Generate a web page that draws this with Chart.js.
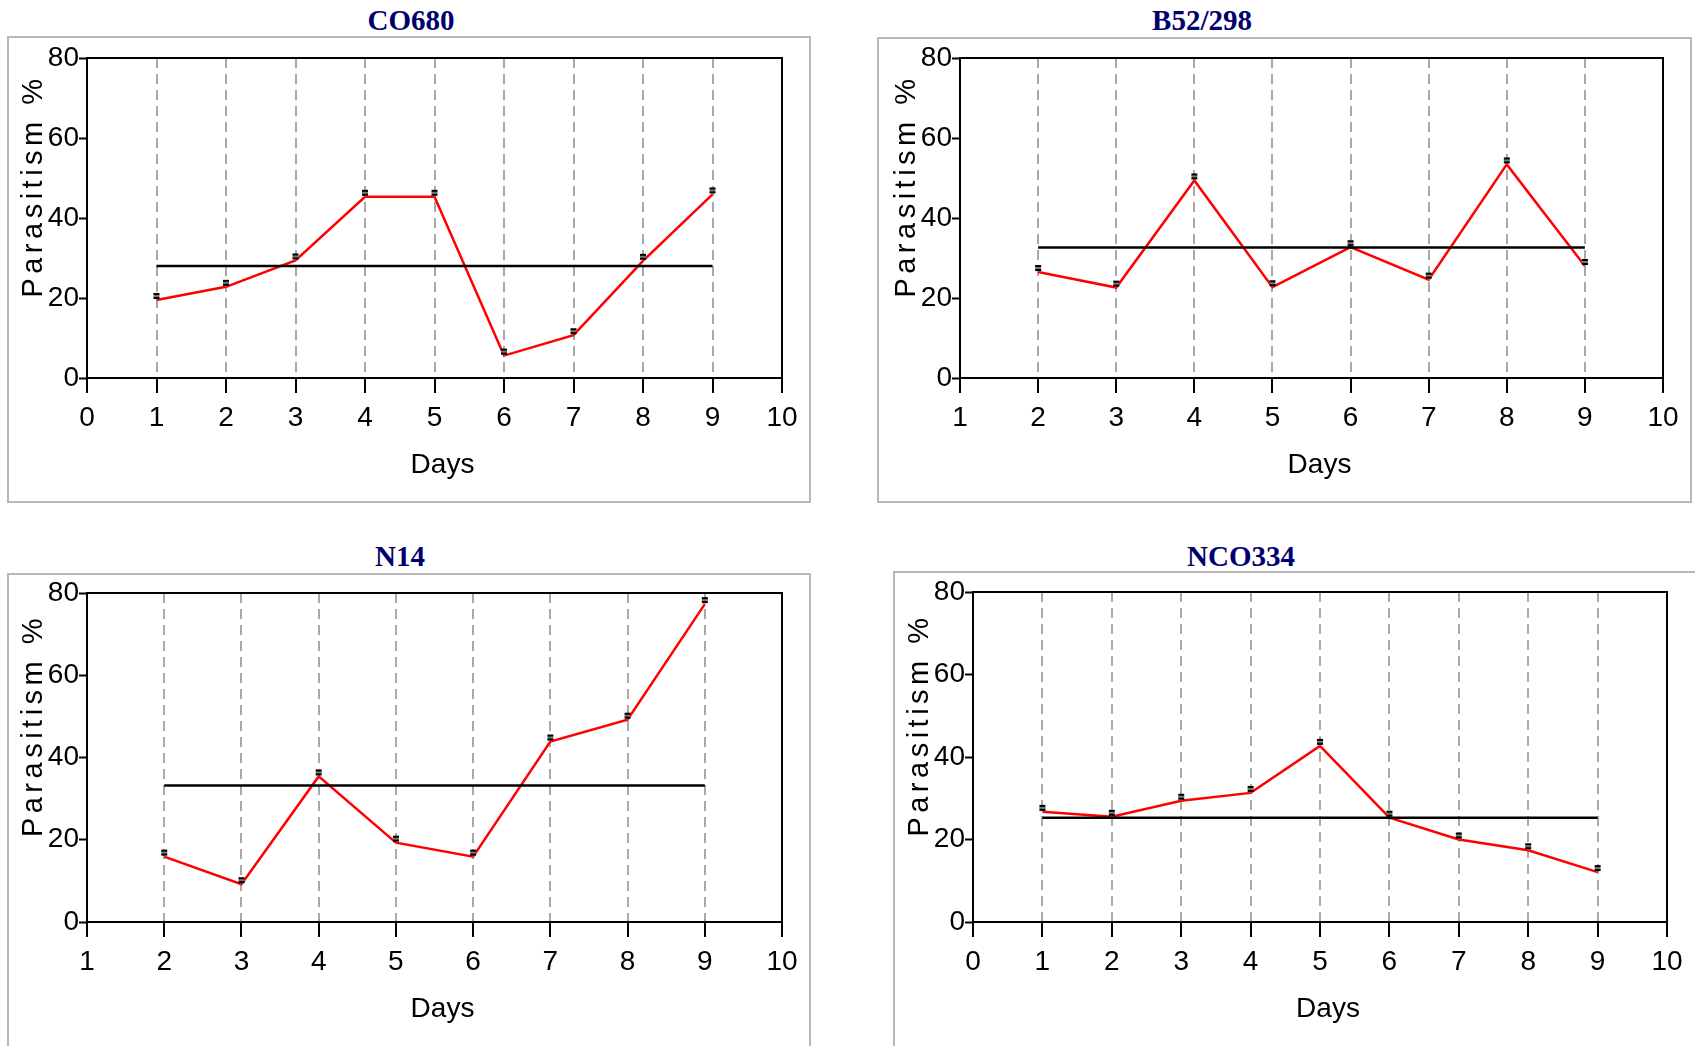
<!DOCTYPE html>
<html>
<head>
<meta charset="utf-8">
<script src="https://cdn.jsdelivr.net/npm/chart.js@4.4.1/dist/chart.umd.min.js"></script>
<style>
  html, body { margin: 0; padding: 0; background: #fff; overflow: hidden; }
  body { width: 1695px; height: 1046px; position: relative; }
  .frame { position: absolute; border: 2px solid #b8b8b8; box-sizing: border-box; }
  .title { position: absolute; font: bold 29px "Liberation Serif", "Times New Roman", serif; color: #00006e;
           line-height: 30px; transform: translateX(-50%); white-space: nowrap; }
  canvas { position: absolute; }
</style>
</head>
<body>
<div class="frame" style="left:7px;top:36px;width:804px;height:467px"></div>
<div class="frame" style="left:877px;top:37px;width:815px;height:466px"></div>
<div class="frame" style="left:7px;top:573px;width:804px;height:600px"></div>
<div class="frame" style="left:893px;top:571px;width:900px;height:600px"></div>

<div class="title" style="left:411px;top:5px">CO680</div>
<div class="title" style="left:1202px;top:5px">B52/298</div>
<div class="title" style="left:400px;top:541px">N14</div>
<div class="title" style="left:1241px;top:541px">NCO334</div>

<canvas id="co680" width="822" height="488" style="left:0px;top:0px"></canvas>
<canvas id="b52" width="830" height="488" style="left:873px;top:0px"></canvas>
<canvas id="n14" width="822" height="497" style="left:0px;top:535px"></canvas>
<canvas id="nco334" width="821" height="498" style="left:886px;top:534px"></canvas>

<script>
// CO680
const coDays = [1, 2, 3, 4, 5, 6, 7, 8, 9];
const coParasitism = [19.5, 22.8, 29.4, 45.3, 45.3, 5.6, 10.7, 29.3, 45.9];
const coMean = 28.0;

// B52/298
const b52Days = [2, 3, 4, 5, 6, 7, 8, 9];
const b52Parasitism = [26.5, 22.6, 49.4, 22.7, 32.7, 24.6, 53.4, 28.0];
const b52Mean = 32.6;

// N14
const n14Days = [2, 3, 4, 5, 6, 7, 8, 9];
const n14Parasitism = [15.9, 9.2, 35.4, 19.3, 15.9, 43.9, 49.2, 77.3];
const n14Mean = 33.2;

// NCO334
const ncoDays = [1, 2, 3, 4, 5, 6, 7, 8, 9];
const ncoParasitism = [26.7, 25.5, 29.4, 31.3, 42.7, 25.3, 20.0, 17.4, 12.1];
const ncoMean = 25.3;

const yMin = 0, yMax = 80, yStep = 20;

const tickFont = { family: '"Liberation Sans", Arial, sans-serif', size: 28 };

// little error-bar cap drawn just above each point
const cap = document.createElement('canvas');
cap.width = 8; cap.height = 18;
(function () {
  const c = cap.getContext('2d');
  c.fillStyle = '#999';
  c.fillRect(3.5, 3, 1, 6);
  c.fillStyle = '#777';
  c.fillRect(1, 4, 6, 2);
  c.fillStyle = '#000';
  c.fillRect(1, 2, 6, 2);
  c.fillRect(1, 6, 6, 2);
})();

const panelDecor = {
  id: 'panelDecor',
  afterDraw(chart) {
    const ctx = chart.ctx, a = chart.chartArea;
    ctx.save();
    ctx.strokeStyle = '#000';
    ctx.lineWidth = 2;
    ctx.strokeRect(a.left, a.top, a.right - a.left, a.bottom - a.top);
    ctx.fillStyle = '#000';
    ctx.font = '28px "Liberation Sans", Arial, sans-serif';
    ctx.textAlign = 'center';
    ctx.textBaseline = 'middle';
    ctx.fillText('Days', (a.left + a.right) / 2 + 8, a.bottom + 87);
    ctx.translate(a.left - 53, (a.top + a.bottom) / 2 - 30);
    ctx.rotate(-Math.PI / 2);
    ctx.font = '29px "Liberation Sans", Arial, sans-serif';
    ctx.letterSpacing = '4.5px';
    ctx.fillText('Parasitism %', 2, 0);
    ctx.letterSpacing = '0px';
    ctx.restore();
  }
};

function makeChart(id, days, values, mean, xMin, xMax) {
  const points = days.map((d, i) => ({ x: d, y: values[i] }));
  const meanLine = [{ x: days[0], y: mean }, { x: days[days.length - 1], y: mean }];
  return new Chart(document.getElementById(id), {
    type: 'line',
    data: {
      datasets: [
        {
          data: meanLine,
          borderColor: '#000',
          borderWidth: 2.5,
          pointRadius: 0,
          clip: false
        },
        {
          data: points,
          borderColor: '#ff0000',
          borderWidth: 2.5,
          tension: 0,
          pointStyle: cap,
          pointRadius: 3,
          clip: false
        }
      ]
    },
    options: {
      responsive: false,
      animation: false,
      layout: { padding: { left: 0, top: 58, right: 40, bottom: 0 } },
      plugins: { legend: { display: false }, tooltip: { enabled: false } },
      scales: {
        x: {
          type: 'linear',
          min: xMin,
          max: xMax,
          afterFit: s => { s.height = 110; },
          ticks: { stepSize: 1, color: '#000', font: tickFont, padding: 8, maxRotation: 0 },
          grid: {
            color: c => days.includes(c.tick.value) ? '#a9a9a9' : 'rgba(0,0,0,0)',
            lineWidth: 2,
            tickColor: '#000',
            tickWidth: 2,
            tickLength: 15
          },
          border: { color: '#000', width: 2, dash: [10, 6] }
        },
        y: {
          min: yMin,
          max: yMax,
          afterFit: s => { s.width = 87; },
          ticks: { stepSize: yStep, color: '#000', font: tickFont, padding: 0 },
          grid: { drawOnChartArea: false, tickColor: '#000', tickWidth: 2, tickLength: 8 },
          border: { color: '#000', width: 2 }
        }
      }
    },
    plugins: [panelDecor]
  });
}

makeChart('co680', coDays, coParasitism, coMean, 0, 10);
makeChart('b52', b52Days, b52Parasitism, b52Mean, 1, 10);
makeChart('n14', n14Days, n14Parasitism, n14Mean, 1, 10);
makeChart('nco334', ncoDays, ncoParasitism, ncoMean, 0, 10);
</script>
</body>
</html>
